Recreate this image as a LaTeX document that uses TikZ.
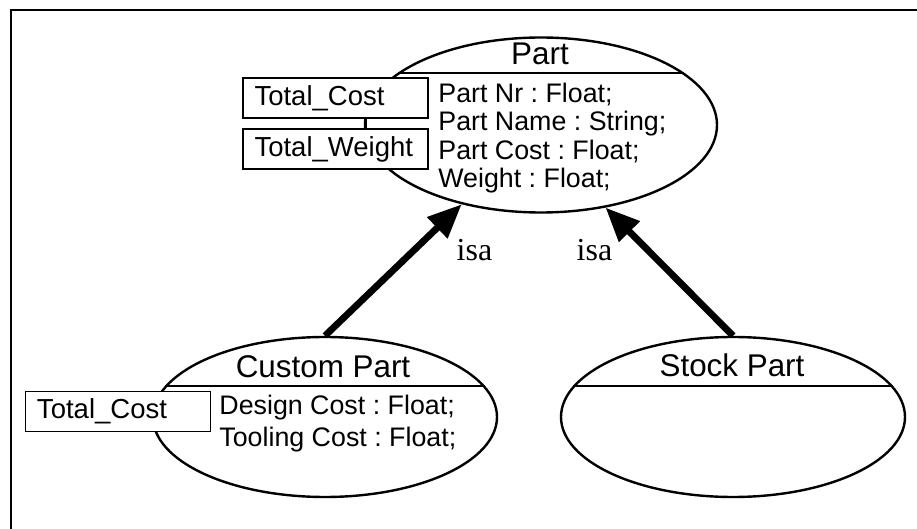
\documentclass[tikz,border=0pt]{standalone}
\usepackage{fontspec}
\setmainfont{Liberation Sans}
\newfontfamily\isafont{Liberation Serif}
\usetikzlibrary{arrows.meta, shapes.geometric}
\frenchspacing

\begin{document}
\begin{tikzpicture}[x=0.5pt, y=-0.5pt,
  classell/.style={draw, ellipse, line width=1.2pt, inner sep=0pt},
  slotbox/.style={draw, fill=white, line width=0.7pt, text width=81pt, inner xsep=5.75pt, inner ysep=0pt, minimum height=20pt, align=left, font=\fontsize{13.75}{16}\selectfont},
  classtitle/.style={anchor=base, inner sep=0pt, font=\fontsize{15.7}{18}\selectfont},
  attr/.style={anchor=base west, inner sep=0pt, font=\fontsize{13.4}{16}\selectfont},
  isaarrow/.style={line width=3.4pt, -{Triangle[length=17pt, width=14pt]}},
  isalabel/.style={anchor=base, inner sep=0pt, font=\isafont\fontsize{16}{19}\selectfont}]
% Frame
\useasboundingbox (0,0) rectangle (917,529);
\draw[line width=1.4pt] (917,10) -- (11,10) -- (11,529);

% Classes
\node[classell, minimum width=176pt, minimum height=87.5pt] (part) at (541,125) {};
\node[classell, minimum width=172pt, minimum height=80pt] (cpart) at (325,417) {};
\node[classell, minimum width=172pt, minimum height=80pt] (spart) at (733,417) {};

% Dividers under the names
\draw[line width=1.2pt] (part.160) -- (part.20);
\draw[line width=1.2pt] (cpart.169) -- (cpart.11);
\draw[line width=1.2pt] (spart.169) -- (spart.11);

% Names
\node[classtitle] (parttitle) at (540,65) {Part};
\node[classtitle] (cparttitle) at (323,378) {Custom Part};
\node[classtitle] (sparttitle) at (732,377) {Stock Part};

% Attributes
\node[attr] (pnr) at (438,102.7) {Part Nr : Float;};
\node[attr] (pname) at (438,131) {Part Name : String;};
\node[attr] (pcostattr) at (438,160) {Part Cost : Float;};
\node[attr] (pweightattr) at (438,188) {Weight : Float;};
\node[attr] (dcost) at (219,415) {Design Cost : Float;};
\node[attr] (tcost) at (219,447) {Tooling Cost : Float;};

% Slots
\node[slotbox] (pcost) at (335.5,98) {Total\_Cost};
\node[slotbox] (pweight) at (335.5,149) {Total\_Weight};
\node[slotbox] (ccost) at (118,411.5) {Total\_Cost};
\draw[line width=0.7pt] ([xshift=15.5pt]pcost.south) -- ([xshift=15.5pt]pweight.north);

% Inheritance
\draw[isaarrow] (cpart.north) -- (part.225);
\draw[isaarrow] (spart.north) -- (part.308);
\node[isalabel] (isaleft) at (474.5,261) {isa};
\node[isalabel] (isaright) at (594.5,261) {isa};
\end{tikzpicture}
\end{document}
